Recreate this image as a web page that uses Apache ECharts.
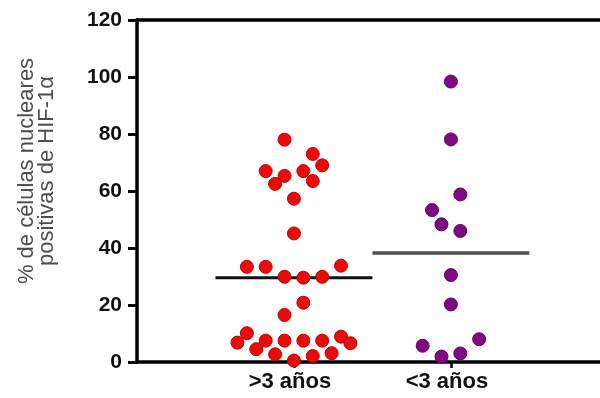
<!DOCTYPE html>
<html>
<head>
<meta charset="utf-8">
<script src="https://cdn.jsdelivr.net/npm/echarts@6/dist/echarts.min.js"></script>
<style>
    html, body { margin: 0; padding: 0; background: #fff; }
    #chart { width: 600px; height: 398px; }
</style>
</head>
<body>
<div id="chart"></div>
<script>
// groups on the x axis
var groupNames = ['>3 años', '<3 años'];
var groupPos = [1, 2];

// % HIF-1a positive nuclei
var redValues = [78, 73, 69, 67, 67, 65.3, 62.5, 63.5, 57.3, 45.1,
    33.4, 33.4, 33.8, 29.9, 29.6, 29.9, 20.8, 16.5, 10.1, 6.8,
    7.5, 7.5, 7.5, 7.5, 8.9, 6.6, 4.5, 2.7, 2.1, 3.1, 0.5];
// side-by-side slot of each dot (scatter spread)
var redSlots = [-1, 2, 3, -3, 1, -1, -2, 2, 0, 0,
    -5, -3, 5, -1, 1, 3, 1, -1, -5, -6,
    -3, -1, 1, 3, 5, 6, -4, -2, 2, 4, 0];

var purpleValues = [98.4, 78.1, 58.8, 53.3, 48.3, 46.0, 30.5, 20.2, 8.0, 5.7, 3.0, 1.9];
var purpleSlots = [0, 0, 1, -2, -1, 1, 0, 0, 3, -3, 1, -1];

var yTicks = [0, 20, 40, 60, 80, 100, 120];

var slotWidth = 0.06;

function median(arr) {
    var s = arr.slice().sort(function (a, b) { return a - b; });
    var m = Math.floor(s.length / 2);
    return s.length % 2 ? s[m] : (s[m - 1] + s[m]) / 2;
}

function points(center, values, slots) {
    var out = [];
    for (var i = 0; i < values.length; i++) {
        out.push([center + slots[i] * slotWidth, values[i]]);
    }
    return out;
}

var redMed = median(redValues);
var purpleMed = median(purpleValues);

var font = "'Liberation Sans', Arial, sans-serif";

var chart = echarts.init(document.getElementById('chart'));
var option = {
    backgroundColor: '#ffffff',
    animation: false,
    grid: {
        left: 137,
        right: 0,
        top: 20,
        bottom: 36
    },
    xAxis: [
        {
            type: 'value',
            min: 0,
            max: 2.95,
            position: 'bottom',
            splitLine: { show: false },
            axisLine: { lineStyle: { color: '#000', width: 3.5 } },
            axisTick: {
                customValues: groupPos,
                length: 6,
                lineStyle: { color: '#000', width: 2.5 }
            },
            axisLabel: {
                customValues: groupPos,
                margin: 9,
                color: '#111',
                fontFamily: font,
                fontWeight: 'bold',
                fontSize: 22,
                padding: [0, 8, 0, 0],
                formatter: function (v) {
                    var i = groupPos.indexOf(v);
                    return i >= 0 ? groupNames[i] : '';
                }
            }
        },
        {
            type: 'value',
            min: 0,
            max: 2.95,
            position: 'top',
            splitLine: { show: false },
            axisLine: { lineStyle: { color: '#000', width: 3.5 } },
            axisTick: { show: false },
            axisLabel: { show: false }
        }
    ],
    yAxis: {
        type: 'value',
        min: yTicks[0],
        max: yTicks[yTicks.length - 1],
        interval: 20,
        splitLine: { show: false },
        axisLine: { lineStyle: { color: '#000', width: 3.5 } },
        axisTick: {
            length: 9,
            lineStyle: { color: '#000', width: 3 }
        },
        axisLabel: {
            margin: 15,
            color: '#111',
            fontFamily: font,
            fontWeight: 'bold',
            fontSize: 21
        }
    },
    graphic: [
        {
            type: 'text',
            x: 37,
            y: 171,
            rotation: Math.PI / 2,
            style: {
                text: '% de células nucleares\npositivas de HIF-1α',
                fill: '#4d4d4d',
                font: '22px ' + font,
                lineHeight: 20,
                align: 'center',
                verticalAlign: 'middle'
            }
        }
    ],
    series: [
        {
            name: 'mediana >3',
            type: 'line',
            data: [[groupPos[0] - 0.5, redMed], [groupPos[0] + 0.5, redMed]],
            symbol: 'none',
            z: 1,
            lineStyle: { color: '#111', width: 3 }
        },
        {
            name: 'mediana <3',
            type: 'line',
            data: [[groupPos[1] - 0.5, purpleMed], [groupPos[1] + 0.5, purpleMed]],
            symbol: 'none',
            z: 1,
            lineStyle: { color: '#505050', width: 3.5 }
        },
        {
            name: groupNames[0],
            type: 'scatter',
            data: points(groupPos[0], redValues, redSlots),
            symbolSize: 13,
            z: 3,
            itemStyle: { color: '#ea0a0a', borderColor: '#c00000', borderWidth: 1, opacity: 1 }
        },
        {
            name: groupNames[1],
            type: 'scatter',
            data: points(groupPos[1], purpleValues, purpleSlots),
            symbolSize: 13,
            z: 3,
            itemStyle: { color: '#7d0a80', borderColor: '#650066', borderWidth: 1, opacity: 1 }
        }
    ]
};
chart.setOption(option);
</script>
</body>
</html>
